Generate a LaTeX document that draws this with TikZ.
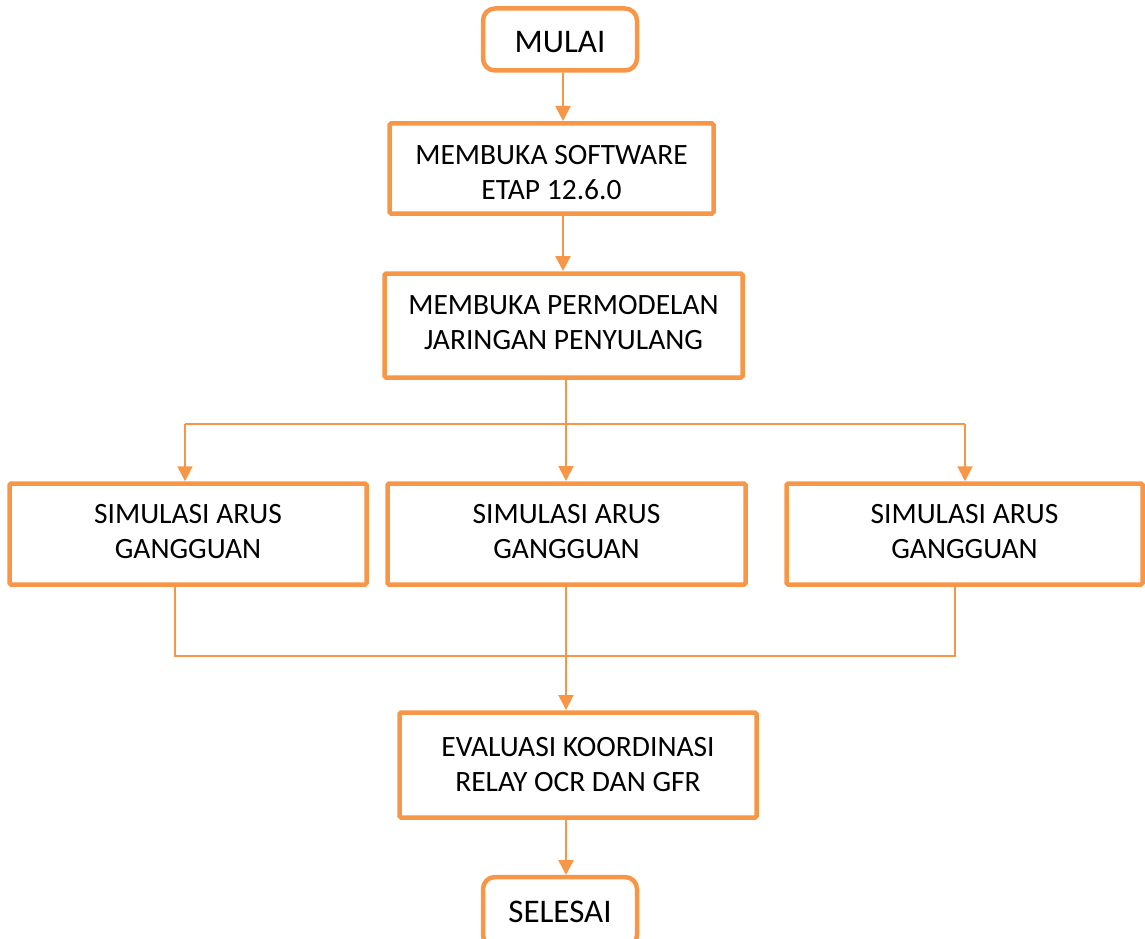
\documentclass[tikz,border=0pt]{standalone}
\usepackage{fontspec}
\setmainfont{Carlito}
\usetikzlibrary{arrows.meta}
\definecolor{org}{HTML}{F79646}
\newcommand{\twolines}[3]{\raisebox{#1}[\height][\depth]{\begin{tabular}{@{}c@{}}#2\\#3\end{tabular}}}
\tikzset{
  box/.style={draw=org, line width=4.5pt, rounded corners=1.5pt, fill=white, align=center, inner sep=0pt,
    font=\fontsize{29.5}{35}\selectfont},
  term/.style={box, rounded corners=12pt, font=\fontsize{33}{38}\selectfont},
  arr/.style={draw=org, line width=2.5pt, -{Triangle[length=15pt,width=15pt]}},
  thin/.style={draw=org, line width=1.6pt}
}
\begin{document}
\begin{tikzpicture}[x=1pt,y=-1pt]
\useasboundingbox (0,0) rectangle (1145,939);
\clip (0,0) rectangle (1145,939);
\node[term, minimum width=154pt, minimum height=62pt] (mulai) at (560,39.5) {\raisebox{-3pt}[\height][\depth]{MULAI}};
\node[box, minimum width=324pt, minimum height=90pt] (soft) at (551.5,168.5) {\twolines{-7pt}{MEMBUKA SOFTWARE}{ETAP 12.6.0}};
\node[box, minimum width=358pt, minimum height=104pt] (model) at (563.5,325.5) {\twolines{0.5pt}{MEMBUKA PERMODELAN}{JARINGAN PENYULANG}};
\node[box, minimum width=357pt, minimum height=101pt] (sim1) at (188,534) {\twolines{0.5pt}{SIMULASI ARUS}{GANGGUAN}};
\node[box, minimum width=358pt, minimum height=101pt] (sim2) at (566.5,534) {\twolines{0.5pt}{SIMULASI ARUS}{GANGGUAN}};
\node[box, minimum width=356pt, minimum height=101pt] (sim3) at (964.5,534) {\twolines{0.5pt}{SIMULASI ARUS}{GANGGUAN}};
\node[box, minimum width=357pt, minimum height=105pt] (eval) at (578,765) {\twolines{-1.5pt}{EVALUASI KOORDINASI}{RELAY OCR DAN GFR}};
\node[term, minimum width=154pt, minimum height=70pt] (selesai) at (560,912) {SELESAI};

\coordinate (sl) at (185,424);
\coordinate (sr) at (965,424);
\coordinate (jl) at (175,656);
\coordinate (jr) at (955,656);

\draw[arr] (mulai.south -| 563,0) -- (563,121);
\draw[arr] (soft.south -| 563,0) -- (563,271);
\draw[thin] (sl) -- (sr);
\draw[arr, line width=2pt] (model.south -| 566,0) -- (566,481);
\draw[arr, line width=2pt] (sl) -- (sl |- sim1.north);
\draw[arr, line width=2pt] (sr) -- (sr |- sim3.north);
\draw[thin] (sim1.south -| jl) -- (jl) -- (jr) -- (sim3.south -| jr);
\draw[arr, line width=2pt] (sim2.south -| 566,0) -- (566,710);
\draw[arr] (eval.south -| 566,0) -- (566,875);
\end{tikzpicture}
\end{document}
